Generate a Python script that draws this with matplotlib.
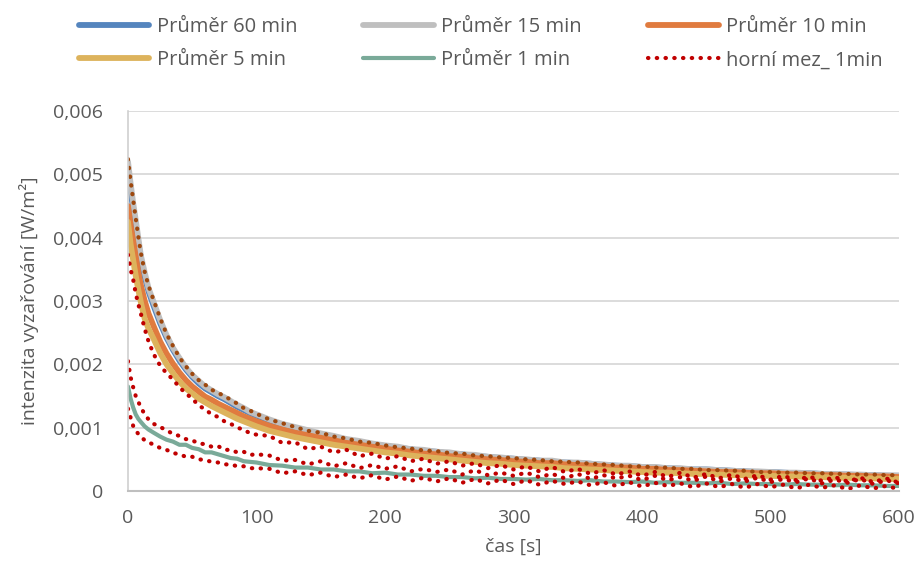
import numpy as np
import matplotlib
matplotlib.use('Agg')
import matplotlib.pyplot as plt
from matplotlib.ticker import FuncFormatter, MultipleLocator

# time axis [s]
t = [0, 2, 4, 6, 8, 10, 13, 16, 20, 25, 30, 35, 40, 45, 50, 55, 60, 65, 70, 75, 80, 85, 90, 95, 100,
     110, 120, 130, 140, 150, 160, 170, 180, 190, 200,
     210, 220, 230, 240, 250, 260, 270, 280, 290, 300,
     310, 320, 330, 340, 350, 360, 370, 380, 390, 400,
     410, 420, 430, 440, 450, 460, 470, 480, 490, 500,
     510, 520, 530, 540, 550, 560, 570, 580, 590, 600]

# values, in 1e-4 W/m2
prumer_60 = [50.5, 47.5, 44.5, 41.8, 39.2, 36.6, 33.8, 31.5, 29.2, 26.5, 24.2, 22.3, 20.6, 19.2, 18.0, 17.0, 16.2, 15.6, 15.0, 14.5, 13.9, 13.3, 12.8, 12.3, 11.9,
             11.1, 10.4, 9.9, 9.4, 9.0, 8.5, 8.1, 7.7, 7.4, 7.1,
             6.8, 6.6, 6.3, 6.2, 5.9, 5.8, 5.5, 5.4, 5.2, 5.1,
             4.9, 4.8, 4.6, 4.5, 4.4, 4.3, 4.1, 4.0, 3.9, 3.8,
             3.7, 3.6, 3.5, 3.4, 3.4, 3.3, 3.2, 3.1, 3.0, 3.0,
             2.9, 2.8, 2.8, 2.7, 2.6, 2.6, 2.5, 2.5, 2.4, 2.4]
prumer_15 = [52.0, 48.6, 45.5, 42.8, 40.0, 37.2, 34.5, 32.0, 29.8, 27.0, 24.6, 22.6, 21.0, 19.5, 18.3, 17.4, 16.5, 15.9, 15.3, 14.8, 14.2, 13.6, 13.1, 12.5, 12.1,
             11.3, 10.6, 10.1, 9.6, 9.1, 8.7, 8.2, 7.9, 7.5, 7.2,
             7.0, 6.6, 6.5, 6.2, 6.1, 5.8, 5.7, 5.4, 5.3, 5.1,
             5.0, 4.8, 4.8, 4.5, 4.5, 4.3, 4.2, 4.0, 4.0, 3.8,
             3.8, 3.6, 3.6, 3.4, 3.4, 3.3, 3.2, 3.1, 3.1, 3.0,
             2.9, 2.9, 2.8, 2.7, 2.7, 2.6, 2.6, 2.5, 2.5, 2.45]
prumer_10 = [45.0, 42.0, 39.5, 37.0, 34.6, 32.5, 30.0, 28.0, 26.0, 23.6, 21.7, 20.1, 18.7, 17.5, 16.5, 15.7, 14.9, 14.4, 13.8, 13.3, 12.8, 12.3, 11.8, 11.4, 11.0,
             10.3, 9.7, 9.2, 8.8, 8.4, 8.0, 7.6, 7.3, 7.0, 6.7,
             6.4, 6.2, 5.9, 5.8, 5.5, 5.4, 5.2, 5.0, 4.9, 4.7,
             4.6, 4.4, 4.4, 4.2, 4.1, 4.0, 3.9, 3.7, 3.7, 3.5,
             3.5, 3.3, 3.3, 3.2, 3.1, 3.0, 3.0, 2.9, 2.8, 2.8,
             2.7, 2.6, 2.6, 2.5, 2.5, 2.4, 2.4, 2.3, 2.3, 2.2]
prumer_5 = [42.5, 39.0, 36.5, 34.0, 31.8, 29.8, 27.2, 25.6, 24.0, 21.8, 20.0, 18.6, 17.3, 16.2, 15.4, 14.6, 14.0, 13.4, 12.9, 12.4, 11.9, 11.4, 11.0, 10.6, 10.2,
            9.5, 9.0, 8.5, 8.1, 7.7, 7.3, 7.0, 6.7, 6.4, 6.1,
            5.9, 5.6, 5.4, 5.2, 5.0, 4.8, 4.6, 4.4, 4.3, 4.1,
            4.0, 3.9, 3.8, 3.6, 3.5, 3.4, 3.3, 3.2, 3.1, 3.0,
            2.9, 2.9, 2.8, 2.7, 2.7, 2.6, 2.5, 2.5, 2.4, 2.4,
            2.3, 2.3, 2.2, 2.2, 2.1, 2.1, 2.0, 2.0, 1.9, 1.9]
prumer_1 = [16.5, 14.6, 13.2, 12.1, 11.4, 10.9, 10.2, 9.7, 9.2, 8.6, 8.1, 7.8, 7.3, 7.3, 6.8, 6.6, 6.1, 6.1, 5.8, 5.5, 5.2, 5.1, 4.7, 4.6, 4.5,
            4.1, 4.0, 3.7, 3.7, 3.4, 3.4, 3.1, 3.1, 2.8, 2.9,
            2.6, 2.6, 2.4, 2.4, 2.2, 2.2, 2.0, 2.1, 1.9, 1.9,
            1.8, 1.9, 1.7, 1.7, 1.6, 1.7, 1.5, 1.5, 1.4, 1.5,
            1.3, 1.4, 1.3, 1.3, 1.2, 1.3, 1.1, 1.2, 1.1, 1.1,
            1.0, 1.1, 1.0, 1.0, 0.9, 1.0, 0.9, 0.9, 0.8, 0.8]
horni_mez_1 = [20.5, 18.0, 16.4, 15.0, 14.1, 13.2, 12.1, 11.3, 10.6, 10.1, 9.6, 9.0, 8.7, 8.2, 8.0, 7.5, 7.4, 7.0, 7.1, 6.5, 6.5, 6.1, 6.2, 5.7, 5.8,
               5.6, 4.8, 4.9, 4.2, 4.7, 3.9, 4.4, 3.6, 4.1, 3.5,
               3.9, 3.1, 3.5, 3.0, 3.4, 2.6, 3.3, 2.5, 2.9, 2.4,
               2.9, 2.2, 2.7, 2.0, 2.7, 1.9, 2.5, 2.0, 2.4, 1.7,
               2.4, 1.7, 2.2, 1.6, 2.3, 1.5, 2.0, 1.5, 2.1, 1.4,
               1.9, 1.4, 2.0, 1.2, 1.8, 1.3, 1.9, 1.1, 1.7, 1.2]
dolni_mez_1 = [13.0, 11.6, 10.3, 9.6, 9.0, 8.6, 8.0, 7.7, 7.3, 6.8, 6.5, 6.0, 5.8, 5.4, 5.4, 5.0, 4.9, 4.6, 4.5, 4.2, 4.2, 3.9, 3.9, 3.6, 3.6,
               3.5, 2.8, 3.1, 2.5, 2.9, 2.2, 2.6, 2.0, 2.5, 1.8,
               2.3, 1.6, 2.1, 1.5, 2.0, 1.3, 1.9, 1.2, 1.8, 1.1,
               1.7, 1.0, 1.6, 1.1, 1.5, 0.9, 1.4, 0.8, 1.4, 0.7,
               1.3, 0.8, 1.2, 0.6, 1.2, 0.6, 1.1, 0.5, 1.1, 0.6,
               1.0, 0.4, 1.0, 0.5, 0.9, 0.3, 0.9, 0.4, 0.8, 0.3]
horni_mez_60 = [52.4, 49.0, 46.0, 43.1, 40.2, 37.6, 34.6, 32.4, 30.1, 27.3, 24.8, 22.9, 21.1, 19.7, 18.5, 17.5, 16.8, 16.0, 15.5, 15.0, 14.4, 13.8, 13.1, 12.7, 12.2,
                11.3, 10.7, 10.1, 9.5, 9.2, 8.6, 8.3, 7.8, 7.6, 7.2,
                6.9, 6.7, 6.4, 6.3, 6.0, 5.9, 5.6, 5.5, 5.3, 5.2,
                5.0, 4.9, 4.7, 4.6, 4.5, 4.3, 4.2, 4.1, 3.9, 3.9,
                3.7, 3.7, 3.5, 3.5, 3.3, 3.3, 3.2, 3.2, 3.0, 3.0,
                2.9, 2.9, 2.8, 2.8, 2.7, 2.7, 2.6, 2.6, 2.5, 2.5]
dolni_mez_60 = [37.3, 35.0, 33.4, 31.2, 29.5, 28.0, 25.6, 23.6, 21.6, 19.8, 18.6, 17.6, 16.4, 15.4, 14.6, 13.5, 12.9, 12.1, 11.7, 11.0, 10.6, 10.0, 9.7, 9.1, 8.9,
                8.7, 7.6, 7.7, 6.6, 7.0, 6.1, 6.5, 5.5, 5.9, 5.1,
                5.5, 4.7, 5.1, 4.3, 4.7, 4.0, 4.4, 3.6, 4.1, 3.4,
                3.9, 3.1, 3.8, 3.0, 3.5, 2.7, 3.3, 2.6, 3.1, 2.4,
                3.0, 2.2, 2.9, 2.1, 2.7, 2.0, 2.6, 1.9, 2.5, 1.8,
                2.4, 1.7, 2.3, 1.6, 2.2, 1.5, 2.1, 1.4, 2.0, 1.3]

scale = 1e-4
dot = (0, (0.1, 2.0))
txt_col = '#595959'

plt.rcParams['font.family'] = ['Open Sans', 'DejaVu Sans']
fig = plt.figure(figsize=(9.17, 5.72), dpi=100)
ax = fig.add_axes([128/917, 1-491/572, 771/917, 380/572])

ax.plot(t, np.array(prumer_60)*scale, color='#5585BE', lw=4.2, label='Průměr 60 min', solid_capstyle='round')
ax.plot(t, np.array(prumer_15)*scale, color='#BFBFBF', lw=4.2, label='Průměr 15 min', solid_capstyle='round')
ax.plot(t, np.array(prumer_10)*scale, color='#E07B3F', lw=4.2, label='Průměr 10 min', solid_capstyle='round')
ax.plot(t, np.array(prumer_5)*scale, color='#DDB35C', lw=4.2, label='Průměr 5 min', solid_capstyle='round')
ax.plot(t, np.array(prumer_1)*scale, color='#7AAA99', lw=3.0, label='Průměr 1 min', solid_capstyle='round')
ax.plot(t, np.array(horni_mez_1)*scale, color='#C00000', lw=3.0, ls=dot, dash_capstyle='round', label='horní mez_ 1min')
ax.plot(t, np.array(dolni_mez_1)*scale, color='#C00000', lw=3.0, ls=dot, dash_capstyle='round', label='_nolegend_')
ax.plot(t, np.array(dolni_mez_60)*scale, color='#C00000', lw=3.0, ls=dot, dash_capstyle='round', label='_nolegend_')
ax.plot(t, np.array(horni_mez_60)*scale, color='#9E480E', lw=3.0, ls=dot, dash_capstyle='round', label='_nolegend_')

ax.set_xlim(0, 600)
ax.set_ylim(0, 0.006)
ax.xaxis.set_major_locator(MultipleLocator(100))
ax.yaxis.set_major_locator(MultipleLocator(0.001))
ax.yaxis.set_major_formatter(FuncFormatter(lambda v, p: '0' if abs(v) < 1e-9 else f'{v:.3f}'.replace('.', ',')))
ax.grid(axis='y', color='#D9D9D9', lw=1.3)
ax.set_axisbelow(True)
for s in ['top', 'right']:
    ax.spines[s].set_visible(False)
ax.spines['left'].set_color('#D0D0D0')
ax.spines['bottom'].set_color('#BFBFBF')
ax.spines['left'].set_linewidth(1.2)
ax.spines['bottom'].set_linewidth(1.5)
ax.tick_params(length=0, labelsize=14, labelcolor=txt_col)
ax.tick_params(axis='y', pad=18)
ax.tick_params(axis='x', pad=13)
ax.set_xlabel('čas [s]', fontsize=14, color=txt_col, labelpad=8)
ax.set_ylabel('intenzita vyzařování [W/m²]', fontsize=14, color=txt_col, labelpad=10)

h, l = ax.get_legend_handles_labels()
order = [0, 3, 1, 4, 2, 5]
leg = fig.legend([h[i] for i in order], [l[i] for i in order], ncol=3, loc='upper left',
                 bbox_to_anchor=(79/917, 1-17/572), frameon=False, borderpad=0, borderaxespad=0,
                 handlelength=3.5, handletextpad=0.35, columnspacing=3.3, labelspacing=0.66,
                 prop={'size': 14.5})
for txt in leg.get_texts():
    txt.set_color(txt_col)

fig.savefig('out.png', dpi=100)
